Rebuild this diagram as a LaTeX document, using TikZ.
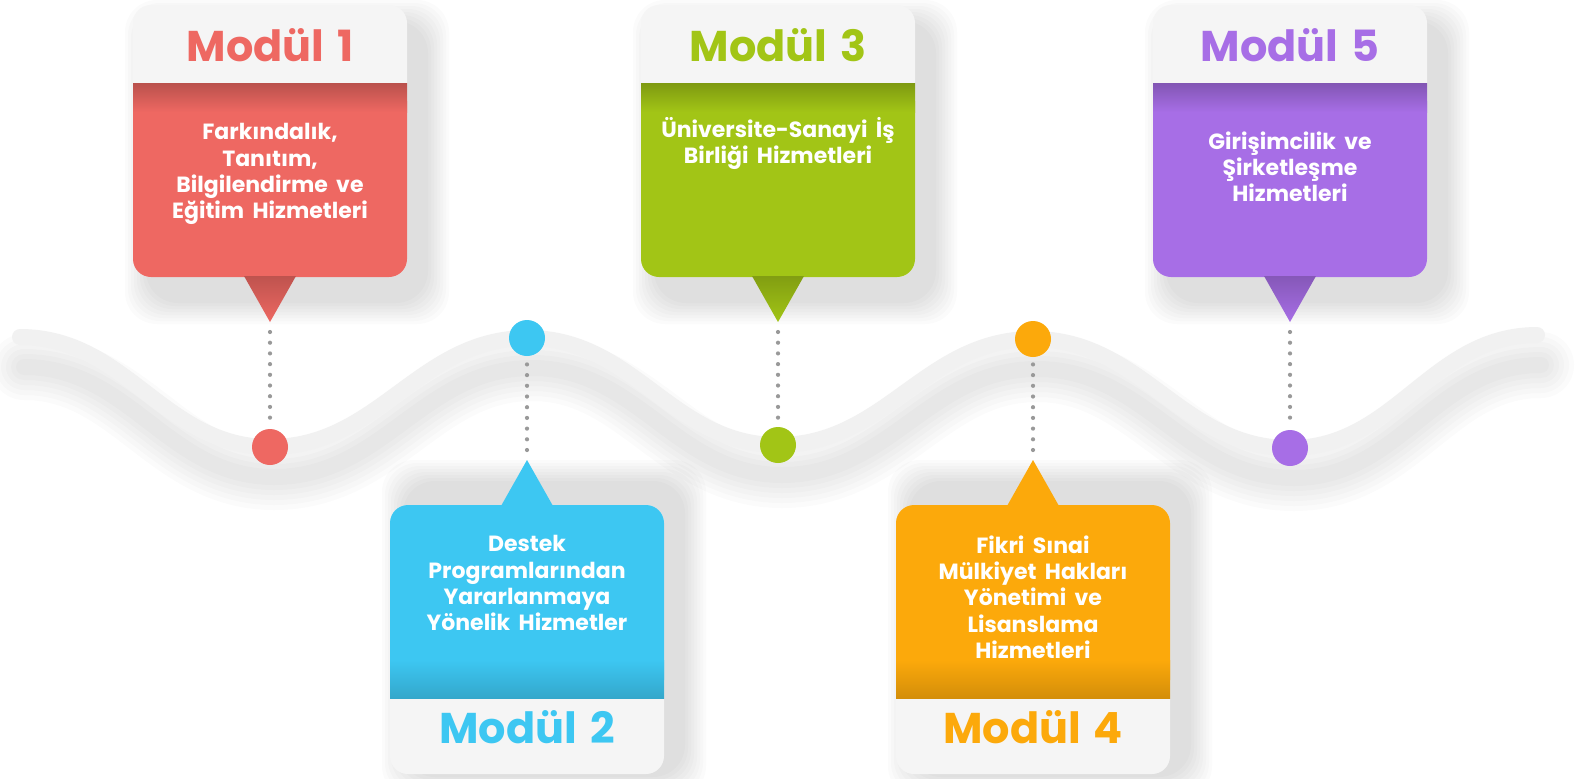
\documentclass[tikz,border=0pt]{standalone}
\usepackage{fontspec}
\setmainfont{Poppins}
\usetikzlibrary{calc}
\definecolor{cred}{HTML}{EE6862}
\definecolor{cblue}{HTML}{3DC7F2}
\definecolor{cgreen}{HTML}{A2C516}
\definecolor{corange}{HTML}{FCA90B}
\definecolor{cpurple}{HTML}{A76EE6}
\definecolor{hdr}{HTML}{F5F5F5}
\definecolor{wavecol}{HTML}{F1F1F1}
\definecolor{dotgray}{HTML}{999999}
\newcommand{\widespace}{\spaceskip=0.38em plus 0.1em\relax}
\tikzset{
 title/.style={font=\fontsize{21.5}{24}\selectfont\bfseries, inner sep=0pt},
 bodytext/.style={font=\fontsize{11}{13.2}\selectfont\bfseries, text=white, align=center, inner sep=0pt, anchor=north, execute at begin node={\widespace\rule{0pt}{10pt}}},
 dotline/.style={dotgray, line width=2.1pt, line cap=round, dash pattern=on 0pt off 5.35pt},
 pin/.style={circle, fill=#1, minimum size=18pt, inner sep=0pt},
 wavep/.style={insert path={(20,337) to[out=0,in=180] (270,447) to[out=0,in=180] (528,338) to[out=0,in=180] (778,445) to[out=0,in=180] (1033,339) to[out=0,in=180] (1290,448) to[out=0,in=180] (1537,335)}},
}
\newcommand{\topcard}[7]{%
 \fill[hdr, rounded corners=9pt] ({#2-137},5) rectangle ({#2+137},277);
 \fill[#3, rounded corners=9pt] ({#2-137},83) rectangle ({#2+137},277);
 \fill[#3] ({#2-137},83) rectangle ({#2+137},130);
 \shade[top color=#3!78!black, bottom color=#3] ({#2-137},83) rectangle ({#2+137},112);
 \shade[top color=#3!80!black, bottom color=#3] ({#2-26},276) -- ({#2+26},276) -- (#2,322) -- cycle;
 \coordinate (#1tip) at (#2,322);
 \node[title, text=#3, anchor=base] (#1title) at (#2,61) {Modül\hspace{0.3em}#4};
 \node[bodytext] (#1body) at (#2,#5) {#6};
 \coordinate (#1c) at (#2,#7);
 \draw[dotline] ([yshift=-5pt]#1tip) -- ([yshift=11pt]#1c);
 \node[pin=#3] (#1dot) at (#1c) {};
}
\newcommand{\botcard}[7]{%
 \fill[hdr, rounded corners=9pt] ({#2-137},505) rectangle ({#2+137},774);
 \fill[#3, rounded corners=9pt] ({#2-137},505) rectangle ({#2+137},698);
 \fill[#3] ({#2-137},650) rectangle ({#2+137},698);
 \shade[top color=#3, bottom color=#3!84!black] ({#2-137},660) rectangle ({#2+137},698);
 \fill[#3] ({#2-26},506) -- ({#2+26},506) -- (#2,460) -- cycle;
 \coordinate (#1tip) at (#2,460);
 \node[title, text=#3, anchor=base] (#1title) at (#2,743) {Modül\hspace{0.3em}#4};
 \node[bodytext] (#1body) at (#2,#5) {#6};
 \coordinate (#1c) at (#2,#7);
 \draw[dotline] ([yshift=5pt]#1tip) -- ([yshift=-11pt]#1c);
 \node[pin=#3] (#1dot) at (#1c) {};
}
\begin{document}
\begin{tikzpicture}[x=0.5pt,y=-0.5pt]
\useasboundingbox (0,0) rectangle (1578,778);
\fill[white] (0,0) rectangle (1578,778);
% card shadows
\foreach \c in {270,778,1290} {
  \foreach \k in {1,...,8} {
    \fill[black, opacity=0.014, rounded corners=16pt] ({\c-137+16-\k*3},{24-\k*3}) rectangle ({\c+137+18+\k*3},{300+\k*3});
  }
}
\foreach \c in {527,1033} {
  \foreach \k in {1,...,8} {
    \fill[black, opacity=0.014, rounded corners=16pt] ({\c-137+16-\k*3},{484-\k*3}) rectangle ({\c+137+18+\k*3},{774+\k*3});
  }
}
% wave shadow
\foreach \w in {66,56,46,36,26,16} {
  \draw[black, opacity=0.016, line width=\w*0.5pt, line cap=round, shift={(4,30)}, wavep];
}
\draw[wavecol, line width=8pt, line cap=round, wavep];
% cards
\topcard{m1}{270}{cred}{1}{123}{Farkındalık,\\ Tanıtım,\\ Bilgilendirme ve\\ Eğitim Hizmetleri}{447}
\botcard{m2}{527}{cblue}{2}{535}{Destek\\ Programlarından\\ Yararlanmaya\\ Yönelik Hizmetler}{338}
\topcard{m3}{778}{cgreen}{3}{117}{Üniversite-Sanayi İş\\ Birliği Hizmetleri}{445}
\botcard{m4}{1033}{corange}{4}{535}{Fikri Sınai\\ Mülkiyet Hakları\\ Yönetimi ve\\ Lisanslama\\ Hizmetleri}{339}
\topcard{m5}{1290}{cpurple}{5}{131}{Girişimcilik ve\\ Şirketleşme\\ Hizmetleri}{448}
\end{tikzpicture}
\end{document}
